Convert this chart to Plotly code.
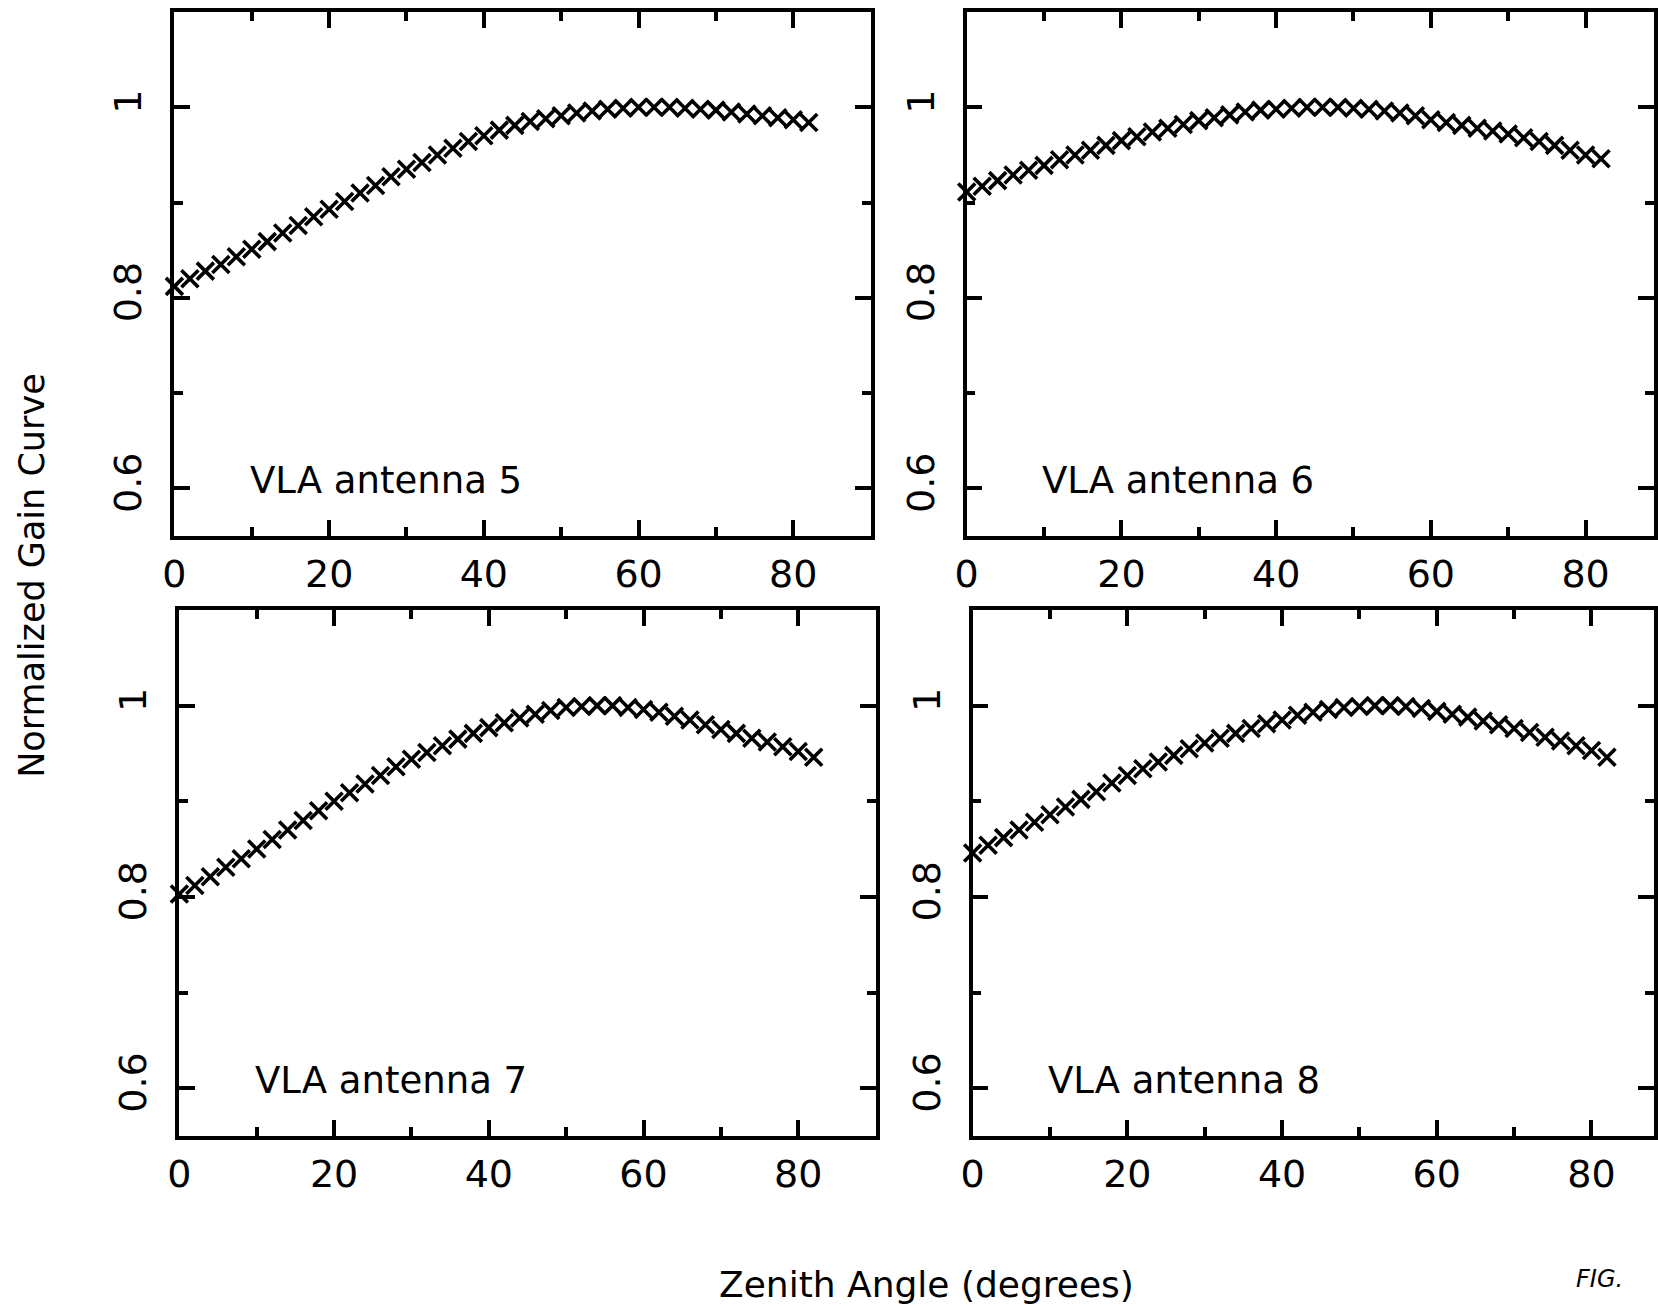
import plotly.graph_objects as go
from plotly.subplots import make_subplots

zenith_angle = [0, 2, 4, 6, 8, 10, 12, 14, 16, 18, 20, 22, 24, 26, 28, 30, 32, 34, 36, 38, 40,
                42, 44, 46, 48, 50, 52, 54, 56, 58, 60, 62, 64, 66, 68, 70, 72, 74, 76, 78, 80, 82]

gain_ant5 = [0.812, 0.820, 0.828, 0.835, 0.843, 0.851, 0.859, 0.868, 0.876, 0.885, 0.893,
             0.901, 0.910, 0.918, 0.927, 0.935, 0.942, 0.950, 0.957, 0.964, 0.970,
             0.976, 0.981, 0.985, 0.988, 0.991, 0.994, 0.996, 0.998, 0.999, 1.000,
             1.000, 1.000, 0.999, 0.998, 0.997, 0.995, 0.993, 0.991, 0.989, 0.987, 0.984]

gain_ant6 = [0.911, 0.917, 0.923, 0.929, 0.934, 0.939, 0.945, 0.950, 0.955, 0.960, 0.965,
             0.969, 0.974, 0.978, 0.982, 0.986, 0.989, 0.992, 0.995, 0.997, 0.998,
             0.999, 1.000, 1.000, 1.000, 0.999, 0.998, 0.996, 0.994, 0.991, 0.987,
             0.984, 0.981, 0.978, 0.975, 0.972, 0.968, 0.964, 0.960, 0.955, 0.950, 0.946]

gain_ant7 = [0.803, 0.812, 0.821, 0.831, 0.840, 0.850, 0.860, 0.870, 0.880, 0.890, 0.900,
             0.909, 0.918, 0.927, 0.936, 0.944, 0.951, 0.958, 0.965, 0.971, 0.977,
             0.982, 0.987, 0.991, 0.995, 0.998, 0.999, 1.000, 1.000, 0.998, 0.996,
             0.993, 0.989, 0.985, 0.980, 0.975, 0.971, 0.966, 0.962, 0.957, 0.952, 0.946]

gain_ant8 = [0.846, 0.854, 0.862, 0.870, 0.878, 0.886, 0.894, 0.902, 0.910, 0.919, 0.927,
             0.934, 0.941, 0.948, 0.955, 0.961, 0.966, 0.971, 0.976, 0.981, 0.985,
             0.990, 0.993, 0.996, 0.998, 0.999, 1.000, 1.000, 0.999, 0.997, 0.994,
             0.991, 0.988, 0.984, 0.980, 0.976, 0.972, 0.967, 0.963, 0.958, 0.953, 0.946]

panel_labels = ["VLA antenna 5", "VLA antenna 6", "VLA antenna 7", "VLA antenna 8"]
x_tickvals = [0, 20, 40, 60, 80]
x_ticktext = ["0", "20", "40", "60", "80"]
x_minorvals = [10, 30, 50, 70]
y_tickvals = [0.6, 0.8, 1.0]
y_ticktext = ["0.6", "0.8", "1"]
y_minorvals = [0.7, 0.9]
x_title = "Zenith Angle (degrees)"
y_title = "Normalized Gain Curve"

W, H = 1658, 1306
FONT = "DejaVu Sans, Liberation Sans, sans-serif"

fig = make_subplots(rows=2, cols=2)

series = [gain_ant5, gain_ant6, gain_ant7, gain_ant8]
pos = [(1, 1), (1, 2), (2, 1), (2, 2)]
# pixel geometry of each panel: (left, right_virtual, top, bottom)
geom = [(164, 867, 12, 536), (964, 1667, 12, 536), (169, 872, 610, 1136), (970, 1673, 610, 1136)]
xspan = 90.0

for i, (ys, (r, c), g) in enumerate(zip(series, pos, geom)):
    fig.add_trace(go.Scatter(
        x=zenith_angle, y=ys, mode="markers",
        marker=dict(symbol="x-thin", size=17, color="black",
                    line=dict(width=3.6, color="black")),
        showlegend=False, cliponaxis=False), row=r, col=c)
    left, right, top, bottom = g
    right_clip = min(right, W)
    xmax = xspan * (right_clip - left) / (right - left)
    axis_common = dict(showline=True, linecolor="black", linewidth=3.5, mirror="ticks",
                       ticks="inside", tickcolor="black", tickwidth=3.5, ticklen=16,
                       showgrid=False, zeroline=False,
                       tickfont=dict(family=FONT, size=38, color="black"))
    fig.update_xaxes(domain=[left / W, right_clip / W], range=[0, xmax],
                     tickmode="array", tickvals=x_tickvals, ticktext=x_ticktext,
                     minor=dict(tickmode="array", tickvals=x_minorvals, ticks="inside",
                                ticklen=9, tickwidth=3.5, tickcolor="black", showgrid=False),
                     ticklabelstandoff=2, **axis_common, row=r, col=c)
    fig.update_yaxes(domain=[1 - bottom / H, 1 - top / H], range=[0.55, 1.1],
                     tickmode="array", tickvals=y_tickvals, ticktext=y_ticktext,
                     tickangle=-90,
                     minor=dict(tickmode="array", tickvals=y_minorvals, ticks="inside",
                                ticklen=9, tickwidth=3.5, tickcolor="black", showgrid=False),
                     ticklabelstandoff=14, **axis_common, row=r, col=c)
    xref = "x" if i == 0 else f"x{i+1}"
    yref = "y" if i == 0 else f"y{i+1}"
    fig.add_annotation(x=9.5, y=0.608, xref=xref, yref=yref, text=panel_labels[i],
                       showarrow=False, xanchor="left", yanchor="middle",
                       font=dict(family=FONT, size=37, color="black"))

fig.add_annotation(x=923 / W, y=1 - 1284 / H, xref="paper", yref="paper", text=x_title,
                   showarrow=False, xanchor="center", yanchor="middle",
                   font=dict(family=FONT, size=36, color="black"))
fig.add_annotation(x=20 / W, y=1 - 576 / H, xref="paper", yref="paper", text=y_title,
                   showarrow=False, xanchor="center", yanchor="middle", textangle=-90,
                   font=dict(family=FONT, size=35, color="black"))
fig.add_annotation(x=1603 / W, y=1 - 1279 / H, xref="paper", yref="paper", text="<i>FIG.</i>",
                   showarrow=False, xanchor="center", yanchor="middle",
                   font=dict(family="DejaVu Sans, sans-serif", size=24, color="black"))

fig.update_layout(width=W, height=H, margin=dict(l=0, r=0, t=0, b=0),
                  paper_bgcolor="white", plot_bgcolor="white")

fig.write_html("out.html")
